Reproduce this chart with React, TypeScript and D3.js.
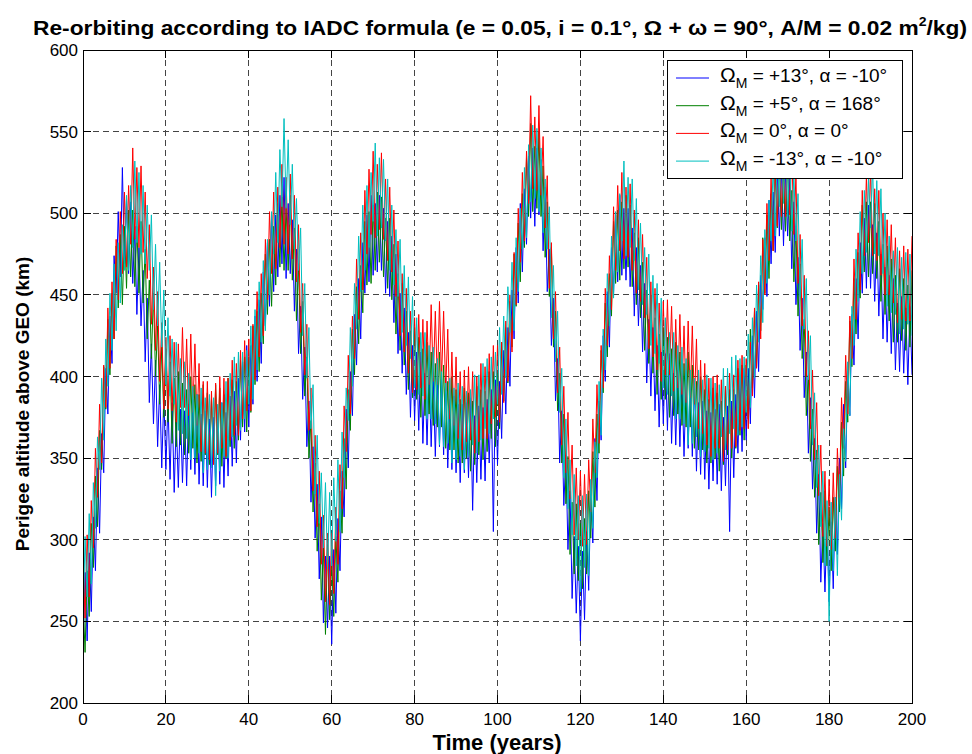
import React from 'react';
import * as d3 from 'd3';

// Time axis: samples every half year from 0 to 200 years
const STEP = 0.5;
const xTicks = [0, 20, 40, 60, 80, 100, 120, 140, 160, 180, 200];
const yTicks = [200, 250, 300, 350, 400, 450, 500, 550, 600];

const seriesColors = ['#0000ff', '#008000', '#ff0000', '#00bfbf'];
const legendRest = [' = +13°, α = -10°', ' = +5°, α = 168°', ' = 0°, α = 0°', ' = -13°, α = -10°'];

// Perigee altitude above GEO (km), Ω_M = +13°, α = -10°
const blueSeries = [
  232, 280, 238, 292, 256, 314, 281, 344, 304, 365, 341, 405, 377, 437, 408, 474, 451, 501, 461, 528,
  469, 509, 463, 507, 457, 492, 438, 479, 431, 465, 409, 448, 384, 420, 371, 410, 357, 395, 344, 388,
  343, 385, 337, 384, 329, 374, 332, 380, 335, 379, 333, 383, 343, 386, 340, 389, 334, 377, 333, 379,
  332, 374, 326, 375, 333, 378, 334, 384, 332, 378, 339, 388, 345, 391, 347, 399, 361, 409, 366, 419,
  369, 419, 383, 437, 397, 447, 408, 464, 431, 482, 443, 499, 452, 499, 461, 511, 469, 522, 460, 506,
  463, 496, 440, 478, 414, 443, 386, 418, 357, 385, 323, 357, 301, 334, 276, 314, 249, 290, 246, 290,
  236, 294, 255, 313, 281, 342, 314, 380, 344, 403, 376, 438, 407, 460, 423, 482, 451, 499, 458, 511,
  462, 506, 464, 511, 465, 503, 451, 495, 449, 486, 433, 475, 414, 451, 402, 442, 389, 427, 375, 419,
  373, 415, 367, 415, 359, 402, 358, 404, 357, 399, 351, 399, 357, 399, 352, 399, 344, 386, 343, 388,
  341, 383, 335, 383, 341, 384, 338, 387, 318, 376, 335, 382, 337, 381, 336, 386, 347, 392, 305, 398,
  346, 397, 362, 416, 377, 430, 394, 453, 423, 479, 445, 506, 464, 515, 481, 535, 497, 540, 492, 540,
  499, 533, 477, 516, 452, 478, 419, 448, 385, 411, 347, 379, 321, 352, 294, 330, 264, 302, 255, 296,
  238, 293, 251, 305, 269, 328, 298, 362, 324, 385, 361, 425, 397, 452, 418, 479, 451, 499, 458, 511,
  462, 503, 459, 503, 455, 491, 437, 479, 431, 468, 415, 457, 396, 435, 388, 430, 379, 419, 369, 415,
  371, 414, 367, 414, 359, 402, 358, 404, 357, 399, 351, 398, 356, 398, 351, 398, 342, 384, 340, 385,
  337, 379, 331, 378, 336, 380, 334, 383, 330, 375, 333, 382, 305, 385, 338, 389, 353, 400, 354, 405,
  361, 405, 371, 425, 387, 440, 403, 462, 441, 485, 449, 508, 469, 513, 476, 528, 486, 529, 480, 528,
  486, 521, 466, 507, 444, 473, 416, 448, 387, 415, 353, 387, 331, 362, 304, 340, 274, 310, 268, 312,
  262, 311, 270, 326, 291, 350, 319, 383, 344, 403, 376, 438, 407, 460, 423, 482, 451, 497, 454, 505,
  454, 493, 446, 488, 437, 475, 423, 467, 421, 462, 414, 460, 404, 445, 403, 449, 402, 442, 395, 443,
  401,
];

// Ω_M = +5°, α = 168°
const greenSeries = [
  265, 231, 281, 253, 310, 283, 339, 308, 367, 343, 406, 380, 435, 401, 451, 423, 480, 442, 487, 444,
  492, 454, 502, 461, 502, 455, 492, 451, 495, 445, 478, 423, 459, 411, 451, 400, 432, 383, 418, 375,
  417, 372, 409, 359, 399, 357, 403, 358, 396, 352, 392, 353, 400, 356, 395, 347, 389, 348, 395, 352,
  390, 346, 386, 348, 395, 352, 393, 345, 389, 350, 399, 357, 398, 356, 397, 361, 410, 369, 412, 366,
  412, 378, 431, 395, 440, 403, 451, 420, 475, 438, 484, 443, 492, 456, 506, 467, 510, 465, 504, 465,
  511, 459, 491, 434, 469, 414, 446, 388, 412, 350, 373, 317, 347, 293, 322, 263, 295, 242, 297, 251,
  288, 253, 302, 274, 330, 304, 362, 331, 392, 367, 429, 401, 455, 420, 468, 439, 495, 456, 501, 457,
  505, 465, 513, 470, 510, 461, 497, 454, 497, 447, 481, 426, 463, 416, 457, 407, 440, 392, 428, 387,
  430, 386, 424, 375, 417, 376, 421, 377, 415, 370, 408, 369, 415, 369, 407, 356, 397, 355, 400, 355,
  392, 347, 386, 347, 393, 350, 390, 342, 385, 346, 394, 352, 392, 349, 391, 354, 403, 362, 403, 357,
  402, 368, 421, 385, 430, 396, 446, 418, 475, 443, 494, 458, 512, 479, 534, 498, 555, 501, 541, 503,
  550, 498, 529, 473, 507, 449, 479, 418, 440, 379, 402, 347, 377, 322, 351, 291, 323, 279, 322, 275,
  310, 270, 313, 279, 330, 301, 354, 320, 377, 353, 416, 390, 445, 412, 463, 437, 495, 457, 502, 459,
  507, 466, 511, 467, 505, 455, 488, 444, 485, 436, 470, 416, 453, 408, 450, 402, 436, 389, 426, 386,
  430, 386, 424, 375, 417, 376, 421, 377, 415, 370, 408, 369, 415, 369, 407, 356, 397, 355, 400, 355,
  392, 347, 386, 347, 393, 350, 390, 342, 385, 346, 394, 352, 392, 350, 392, 356, 405, 364, 407, 361,
  407, 374, 429, 393, 440, 406, 456, 428, 485, 451, 499, 460, 512, 477, 529, 491, 535, 490, 528, 489,
  535, 483, 514, 458, 492, 437, 469, 411, 435, 376, 401, 348, 380, 326, 355, 297, 329, 286, 330, 284,
  320, 281, 326, 293, 345, 317, 372, 339, 397, 372, 434, 406, 460, 426, 476, 448, 505, 464, 507, 461,
  507, 463, 506, 460, 495, 446, 481, 438, 480, 434, 472, 421, 462, 421, 466, 422, 460, 416, 456, 418,
  465,
];

// Ω_M = 0°, α = 0°
const redSeries = [
  292, 252, 303, 265, 324, 295, 356, 326, 383, 347, 407, 381, 442, 405, 458, 423, 484, 447, 501, 463,
  513, 467, 517, 481, 540, 484, 528, 479, 529, 476, 513, 460, 493, 432, 467, 416, 452, 397, 433, 380,
  424, 380, 425, 379, 421, 372, 420, 381, 430, 381, 423, 376, 426, 378, 420, 370, 408, 354, 397, 353,
  397, 349, 391, 346, 396, 353, 400, 356, 399, 351, 399, 361, 410, 364, 408, 364, 416, 374, 422, 379,
  423, 379, 432, 398, 452, 412, 463, 425, 484, 447, 501, 463, 513, 466, 516, 479, 530, 481, 522, 475,
  524, 472, 511, 458, 493, 427, 457, 401, 432, 367, 393, 330, 364, 308, 342, 285, 315, 262, 304, 260,
  304, 267, 320, 285, 346, 319, 382, 354, 413, 377, 437, 411, 472, 435, 488, 453, 514, 475, 527, 487,
  538, 485, 530, 490, 537, 484, 521, 471, 516, 464, 502, 449, 483, 425, 463, 415, 454, 402, 440, 390,
  436, 392, 438, 393, 435, 386, 434, 395, 444, 397, 440, 395, 446, 398, 440, 391, 429, 374, 415, 370,
  412, 362, 403, 355, 404, 360, 406, 361, 403, 353, 400, 360, 408, 362, 406, 362, 414, 371, 419, 375,
  419, 372, 421, 384, 434, 397, 450, 415, 476, 444, 503, 470, 525, 483, 538, 506, 572, 515, 559, 514,
  566, 511, 547, 491, 523, 454, 482, 423, 452, 390, 418, 358, 394, 341, 378, 325, 358, 303, 344, 300,
  342, 296, 340, 297, 349, 317, 374, 341, 395, 359, 419, 393, 454, 419, 474, 441, 504, 465, 517, 477,
  525, 472, 516, 473, 518, 465, 502, 451, 496, 446, 487, 436, 473, 417, 458, 412, 454, 404, 445, 397,
  446, 401, 447, 401, 443, 391, 435, 393, 438, 389, 431, 384, 434, 387, 431, 383, 423, 368, 410, 365,
  408, 358, 399, 351, 400, 356, 401, 356, 398, 348, 394, 355, 402, 356, 401, 357, 410, 367, 413, 368,
  411, 368, 421, 388, 442, 405, 458, 423, 484, 450, 506, 471, 523, 477, 528, 492, 544, 498, 542, 498,
  550, 499, 539, 487, 523, 457, 487, 431, 462, 400, 428, 368, 404, 349, 384, 327, 358, 302, 342, 296,
  337, 294, 341, 301, 356, 326, 387, 356, 413, 377, 437, 411, 472, 435, 488, 453, 514, 474, 523, 482,
  528, 474, 515, 471, 514, 462, 500, 450, 496, 450, 493, 445, 485, 433, 477, 435, 480, 434, 478, 434,
  486,
];

// Ω_M = -13°, α = -10°
const cyanSeries = [
  247, 302, 265, 316, 273, 335, 307, 363, 343, 399, 361, 423, 394, 451, 416, 469, 428, 482, 445, 493,
  465, 511, 465, 517, 479, 532, 482, 525, 475, 517, 469, 505, 465, 499, 441, 481, 431, 470, 418, 453,
  395, 436, 388, 423, 383, 421, 367, 411, 365, 409, 362, 402, 349, 394, 350, 389, 353, 393, 341, 387,
  343, 389, 344, 387, 327, 383, 342, 384, 351, 397, 350, 402, 363, 412, 370, 415, 367, 415, 374, 416,
  383, 431, 386, 441, 404, 458, 421, 471, 428, 484, 450, 501, 475, 525, 482, 539, 504, 558, 503, 545,
  493, 530, 478, 509, 465, 491, 425, 457, 399, 430, 368, 395, 328, 364, 310, 341, 295, 335, 282, 329,
  284, 338, 299, 349, 305, 366, 338, 393, 373, 430, 394, 457, 429, 486, 452, 505, 465, 517, 479, 525,
  495, 543, 486, 534, 491, 533, 483, 521, 465, 505, 456, 490, 449, 484, 427, 468, 419, 461, 411, 449,
  393, 436, 389, 427, 388, 427, 374, 419, 374, 418, 371, 411, 358, 403, 357, 396, 359, 399, 347, 393,
  349, 396, 351, 394, 343, 391, 351, 392, 358, 401, 353, 401, 361, 408, 368, 411, 365, 412, 374, 415,
  383, 430, 389, 437, 399, 455, 427, 470, 428, 485, 452, 503, 478, 528, 485, 542, 507, 554, 509, 552,
  501, 540, 488, 521, 478, 504, 436, 468, 409, 440, 378, 405, 338, 374, 319, 349, 303, 340, 284, 327,
  268, 327, 283, 328, 278, 337, 307, 360, 338, 397, 364, 429, 404, 463, 431, 486, 448, 501, 464, 512,
  483, 532, 474, 522, 479, 521, 471, 509, 453, 494, 444, 479, 438, 475, 419, 462, 414, 457, 408, 448,
  393, 436, 389, 427, 388, 427, 374, 419, 374, 418, 371, 411, 358, 404, 359, 399, 363, 404, 351, 398,
  354, 401, 356, 399, 349, 396, 353, 395, 363, 405, 355, 405, 365, 412, 368, 413, 364, 411, 369, 412,
  378, 426, 381, 436, 399, 456, 421, 474, 433, 490, 457, 508, 483, 531, 486, 541, 504, 551, 506, 549,
  498, 539, 489, 524, 483, 512, 449, 484, 429, 460, 398, 425, 358, 390, 332, 358, 308, 342, 284, 324,
  250, 323, 281, 326, 278, 340, 312, 368, 348, 409, 376, 443, 419, 478, 446, 501, 463, 514, 476, 521,
  491, 530, 475, 520, 474, 515, 463, 500, 443, 486, 439, 477, 438, 479, 426, 473, 429, 476, 432, 475,
  425,
];

const allSeries = [blueSeries, greenSeries, redSeries, cyanSeries];

const FONT = '"Liberation Sans", Arial, Helvetica, sans-serif';

export default function App() {
  const W = 972;
  const H = 754;
  const L = 83, R = 912, T = 50, B = 703;
  const x = d3.scaleLinear().domain([0, 200]).range([L, R]);
  const y = d3.scaleLinear().domain([200, 600]).range([B, T]);
  const line = d3
    .line<number>()
    .x((_, i) => x(i * STEP))
    .y((d) => y(d));

  const tickLen = 8;
  const legX = 667, legY = 60, legW = 235, legH = 118;
  const rowY = (i: number) => legY + 18 + i * 27.7;

  return (
    <svg
      width={W}
      height={H}
      viewBox={`0 0 ${W} ${H}`}
      style={{ position: 'absolute', left: 0, top: 0, background: '#fff' }}
      fontFamily={FONT}
    >
      <defs>
        <clipPath id="plotClip">
          <rect x={L} y={T} width={R - L} height={B - T} />
        </clipPath>
      </defs>
      <rect x={0} y={0} width={W} height={H} fill="#fff" />

      {/* grid */}
      <g stroke="#444" strokeWidth={1} strokeDasharray="6,4" shapeRendering="crispEdges">
        {xTicks.slice(1, -1).map((t) => (
          <line key={'gx' + t} x1={x(t)} x2={x(t)} y1={T} y2={B} />
        ))}
        {yTicks.slice(1, -1).map((t) => (
          <line key={'gy' + t} x1={L} x2={R} y1={y(t)} y2={y(t)} />
        ))}
      </g>

      {/* data */}
      <g clipPath="url(#plotClip)" fill="none" strokeWidth={1} strokeLinejoin="miter">
        {allSeries.map((s, k) => (
          <path key={k} d={line(s) || ''} stroke={seriesColors[k]} />
        ))}
      </g>

      {/* axes box and ticks */}
      <g stroke="#000" strokeWidth={1} shapeRendering="crispEdges">
        <rect x={L} y={T} width={R - L} height={B - T} fill="none" />
        {xTicks.map((t) => (
          <g key={'tx' + t}>
            <line x1={x(t)} x2={x(t)} y1={B} y2={B - tickLen} />
            <line x1={x(t)} x2={x(t)} y1={T} y2={T + tickLen} />
          </g>
        ))}
        {yTicks.map((t) => (
          <g key={'ty' + t}>
            <line x1={L} x2={L + tickLen} y1={y(t)} y2={y(t)} />
            <line x1={R} x2={R - tickLen} y1={y(t)} y2={y(t)} />
          </g>
        ))}
      </g>

      {/* tick labels */}
      <g fontSize={17} fill="#000">
        {xTicks.map((t) => (
          <text key={'lx' + t} x={x(t)} y={B + 22} textAnchor="middle">
            {t}
          </text>
        ))}
        {yTicks.map((t) => (
          <text key={'ly' + t} x={L - 5} y={y(t) + 6} textAnchor="end">
            {t}
          </text>
        ))}
      </g>

      {/* title */}
      <text
        x={500}
        y={35}
        textAnchor="middle"
        fontSize={21}
        fontWeight="bold"
        fill="#000"
        textLength={934}
        lengthAdjust="spacingAndGlyphs"
      >
        Re-orbiting according to IADC formula (e = 0.05, i = 0.1°, Ω + ω = 90°, A/M = 0.02 m
        <tspan fontSize={13} dy={-9}>2</tspan>
        <tspan dy={9}>/kg)</tspan>
      </text>

      {/* axis labels */}
      <text x={497} y={750} textAnchor="middle" fontSize={22} fontWeight="bold" fill="#000">
        Time (years)
      </text>
      <text
        transform={`translate(29, 404) rotate(-90)`}
        textAnchor="middle"
        fontSize={19}
        fontWeight="bold"
        fill="#000"
      >
        Perigee altitude above GEO (km)
      </text>

      {/* legend */}
      <g>
        <rect x={legX} y={legY} width={legW} height={legH} fill="#fff" stroke="#000" strokeWidth={1} shapeRendering="crispEdges" />
        {legendRest.map((txt, i) => (
          <g key={'leg' + i}>
            <line x1={676} x2={709} y1={rowY(i)} y2={rowY(i)} stroke={seriesColors[i]} strokeWidth={1} />
            <text x={720} y={rowY(i) + 4} fontSize={19} fill="#000">
              <tspan fontSize={21}>Ω</tspan>
              <tspan fontSize={14} dy={6}>M</tspan>
              <tspan dy={-6}>{txt}</tspan>
            </text>
          </g>
        ))}
      </g>
    </svg>
  );
}
